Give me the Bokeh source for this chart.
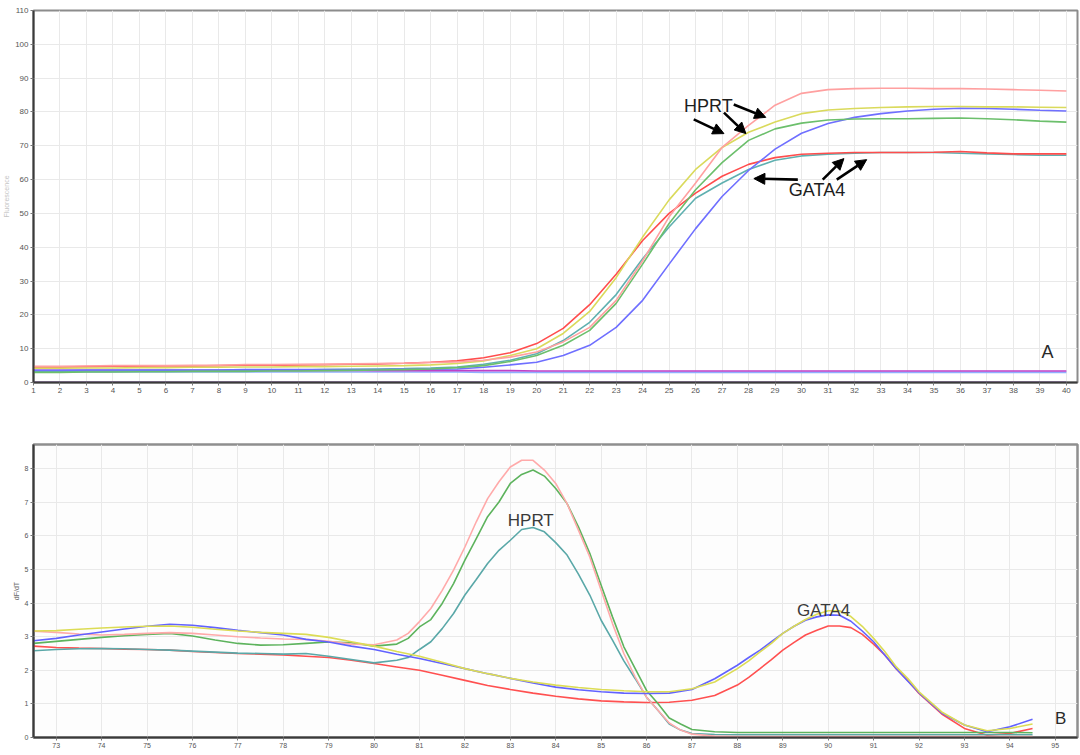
from bokeh.plotting import figure
from bokeh.layouts import column
from bokeh.models import Range1d, FixedTicker, Arrow, NormalHead, ColumnDataSource
from bokeh.core.properties import value
from bokeh.embed import file_html
from bokeh.resources import INLINE

# ---------------- Panel A: amplification curves ----------------
cycles = list(range(1, 41))

amp_pink = [4.8, 4.8, 4.9, 5.0, 5.0, 5.0, 5.1, 5.1, 5.3, 5.3,
            5.4, 5.4, 5.5, 5.6, 5.7, 5.9, 6.1, 6.6, 7.5, 9.0,
            12.0, 16.3, 24.3, 36.0, 49.0, 59.0, 69.5, 76.0, 82.0, 85.5,
            86.6, 86.9, 87.0, 87.0, 86.9, 86.9, 86.8, 86.6, 86.4, 86.2]
amp_yellow = [4.2, 4.2, 4.3, 4.3, 4.4, 4.4, 4.5, 4.5, 4.6, 4.6,
              4.7, 4.7, 4.8, 4.9, 5.0, 5.2, 5.6, 6.4, 8.0, 10.0,
              14.5, 21.0, 31.0, 43.0, 54.0, 63.0, 69.5, 74.0, 77.0, 79.5,
              80.6, 81.0, 81.3, 81.5, 81.6, 81.6, 81.5, 81.5, 81.4, 81.3]
amp_green = [3.0, 3.0, 3.1, 3.1, 3.2, 3.2, 3.3, 3.3, 3.3, 3.4,
             3.4, 3.5, 3.6, 3.7, 3.8, 4.0, 4.4, 5.0, 6.2, 8.0,
             11.0, 15.4, 23.4, 35.0, 47.0, 57.0, 65.0, 71.6, 75.0, 76.7,
             77.6, 77.9, 78.0, 78.0, 78.1, 78.2, 78.0, 77.7, 77.3, 77.0]
amp_blue = [3.6, 3.6, 3.7, 3.7, 3.7, 3.7, 3.7, 3.7, 3.8, 3.8,
            3.8, 3.8, 3.8, 3.8, 3.9, 3.9, 4.0, 4.5, 5.2, 6.0,
            8.0, 11.0, 16.3, 24.3, 35.0, 45.5, 55.0, 62.7, 69.0, 73.7,
            76.6, 78.4, 79.5, 80.3, 80.8, 81.1, 81.0, 80.8, 80.5, 80.3]
amp_red = [4.6, 4.6, 4.7, 4.8, 4.8, 4.9, 4.9, 5.0, 5.1, 5.1,
           5.2, 5.3, 5.4, 5.5, 5.7, 6.0, 6.4, 7.3, 8.8, 11.5,
           16.0, 23.0, 32.0, 42.0, 50.0, 56.0, 61.0, 64.5, 66.5, 67.5,
           67.8, 68.0, 68.0, 68.0, 68.1, 68.3, 67.9, 67.6, 67.6, 67.6]
amp_teal = [3.3, 3.3, 3.4, 3.4, 3.5, 3.5, 3.5, 3.6, 3.6, 3.7,
            3.7, 3.8, 3.9, 4.0, 4.1, 4.3, 4.6, 5.4, 6.6, 8.5,
            12.4, 17.8, 26.0, 36.6, 46.0, 54.5, 59.0, 63.0, 65.7, 67.0,
            67.5, 67.8, 68.0, 68.0, 68.0, 67.8, 67.6, 67.4, 67.2, 67.2]
# no-template controls
amp_ntc_purple = [3.6, 3.6, 3.6, 3.6, 3.6, 3.6, 3.6, 3.6, 3.6, 3.6,
                  3.6, 3.6, 3.6, 3.5, 3.5, 3.5, 3.5, 3.5, 3.5, 3.4,
                  3.4, 3.4, 3.4, 3.4, 3.4, 3.4, 3.4, 3.4, 3.4, 3.4,
                  3.4, 3.4, 3.4, 3.4, 3.4, 3.4, 3.4, 3.4, 3.4, 3.4]
amp_ntc_sky = [3.1, 3.1, 3.1, 3.1, 3.1, 3.1, 3.1, 3.1, 3.1, 3.1,
               3.1, 3.1, 3.1, 3.1, 3.1, 3.1, 3.1, 3.0, 3.0, 3.0,
               3.0, 3.0, 3.0, 3.0, 3.0, 3.0, 3.0, 3.0, 3.0, 3.0,
               3.0, 3.0, 3.0, 3.0, 3.0, 3.0, 3.0, 3.0, 3.0, 3.0]
amp_ntc_base = [0.2, 0.2, 0.2, 0.2, 0.2, 0.2, 0.2, 0.2, 0.2, 0.2,
                0.2, 0.2, 0.2, 0.2, 0.2, 0.2, 0.2, 0.2, 0.2, 0.2,
                0.2, 0.2, 0.2, 0.2, 0.2, 0.2, 0.2, 0.2, 0.2, 0.2,
                0.2, 0.2, 0.2, 0.2, 0.2, 0.2, 0.2, 0.2, 0.2, 0.2]

amp_series = [
    (amp_ntc_base, "#a48cb8"),
    (amp_ntc_sky, "#8fb0ff"),
    (amp_ntc_purple, "#c040c8"),
    (amp_teal, "#5fb0b0"),
    (amp_red, "#ff4d4d"),
    (amp_blue, "#6f6fff"),
    (amp_green, "#6cbf6c"),
    (amp_yellow, "#dada5c"),
    (amp_pink, "#ffa0a0"),
]

amp_xticks = list(range(1, 41))
amp_yticks = list(range(0, 111, 10))

# labels and pointer arrows of panel A
a_label_x = [25.56, 29.52]
a_label_y = [81.9, 56.8]
a_label_text = ["HPRT", "GATA4"]
arrow_x0 = [25.93, 27.07, 27.44, 29.86, 30.80, 31.33]
arrow_y0 = [77.8, 79.8, 82.2, 60.0, 60.0, 60.0]
arrow_x1 = [27.07, 27.90, 28.65, 28.20, 31.60, 32.46]
arrow_y1 = [73.6, 73.6, 78.4, 60.3, 66.2, 65.9]

# ---------------- Panel B: melt curves ----------------
# HPRT wells are sampled more densely across their melting peak
temps_hprt = [72.5, 73.0, 73.5, 74.0, 74.5, 75.0, 75.5, 76.0, 76.5, 77.0,
              77.5, 78.0, 78.5, 79.0, 79.5, 80.0, 80.5,
              80.75, 81.0, 81.25, 81.5, 81.75, 82.0, 82.25, 82.5, 82.75, 83.0,
              83.25, 83.5, 83.75, 84.0, 84.25, 84.5, 84.75, 85.0, 85.25, 85.5,
              85.75, 86.0, 86.25, 86.5, 86.75,
              87.0, 87.5, 88.0, 88.5, 89.0, 89.5, 90.0, 90.5, 91.0, 91.5,
              92.0, 92.5, 93.0, 93.5, 94.0, 94.5]
melt_pink = [3.16, 3.13, 3.08, 3.05, 3.07, 3.10, 3.12, 3.10, 3.05, 3.00,
             2.96, 2.93, 2.92, 2.86, 2.78, 2.76, 2.90,
             3.10, 3.45, 3.84, 4.38, 4.98, 5.67, 6.42, 7.11, 7.61, 8.05,
             8.25, 8.25, 7.96, 7.56, 6.96, 6.17, 5.37, 4.38, 3.39, 2.50,
             1.80, 1.20, 0.81, 0.43, 0.22,
             0.10, 0.04, 0.03, 0.03, 0.03, 0.03, 0.03, 0.03, 0.03, 0.03,
             0.03, 0.03, 0.03, 0.03, 0.03, 0.03]
melt_green = [2.80, 2.86, 2.92, 2.98, 3.03, 3.07, 3.10, 3.02, 2.90, 2.80,
              2.75, 2.76, 2.80, 2.84, 2.82, 2.72, 2.78,
              2.95, 3.29, 3.51, 3.99, 4.58, 5.28, 5.92, 6.57, 7.01, 7.56,
              7.83, 7.96, 7.78, 7.41, 6.96, 6.27, 5.48, 4.53, 3.59, 2.70,
              2.05, 1.40, 1.01, 0.58, 0.40,
              0.24, 0.17, 0.15, 0.15, 0.15, 0.15, 0.15, 0.15, 0.15, 0.15,
              0.15, 0.15, 0.15, 0.15, 0.15, 0.14]
melt_teal = [2.58, 2.62, 2.64, 2.65, 2.64, 2.62, 2.60, 2.57, 2.54, 2.51,
             2.50, 2.48, 2.50, 2.42, 2.32, 2.22, 2.30,
             2.38, 2.62, 2.85, 3.24, 3.69, 4.24, 4.70, 5.18, 5.57, 5.87,
             6.19, 6.25, 6.12, 5.80, 5.43, 4.86, 4.24, 3.49, 2.90, 2.28,
             1.75, 1.20, 0.81, 0.40, 0.22,
             0.12, 0.09, 0.08, 0.08, 0.08, 0.08, 0.08, 0.08, 0.08, 0.08,
             0.08, 0.08, 0.08, 0.08, 0.08, 0.08]

# GATA4 wells are sampled more densely across their melting peak
temps_gata = [72.5, 73.0, 73.5, 74.0, 74.5, 75.0, 75.5, 76.0, 76.5, 77.0,
              77.5, 78.0, 78.5, 79.0, 79.5, 80.0, 80.5, 81.0, 81.5, 82.0,
              82.5, 83.0, 83.5, 84.0, 84.5, 85.0, 85.5, 86.0, 86.5, 87.0,
              87.5, 88.0,
              88.25, 88.5, 88.75, 89.0, 89.25, 89.5, 89.75, 90.0, 90.25, 90.5,
              90.75, 91.0, 91.25, 91.5, 91.75,
              92.0, 92.5, 93.0, 93.5, 94.0, 94.5]
melt_yellow = [3.17, 3.18, 3.22, 3.26, 3.29, 3.31, 3.32, 3.28, 3.22, 3.17,
               3.13, 3.10, 3.07, 2.98, 2.85, 2.72, 2.56, 2.42, 2.24, 2.05,
               1.90, 1.76, 1.65, 1.56, 1.49, 1.43, 1.39, 1.36, 1.36, 1.45,
               1.65, 2.05,
               2.28, 2.55, 2.80, 3.10, 3.31, 3.51, 3.67, 3.77, 3.77, 3.60,
               3.31, 2.95, 2.55, 2.10, 1.76,
               1.36, 0.76, 0.37, 0.20, 0.27, 0.40]
melt_blue = [2.88, 2.95, 3.05, 3.14, 3.23, 3.31, 3.37, 3.34, 3.27, 3.19,
             3.12, 3.05, 2.92, 2.84, 2.72, 2.62, 2.48, 2.35, 2.20, 2.05,
             1.90, 1.76, 1.62, 1.50, 1.42, 1.36, 1.32, 1.31, 1.32, 1.43,
             1.75, 2.15,
             2.38, 2.60, 2.85, 3.10, 3.31, 3.49, 3.59, 3.65, 3.64, 3.46,
             3.17, 2.85, 2.45, 2.05, 1.68,
             1.33, 0.73, 0.37, 0.17, 0.32, 0.54]
melt_red = [2.72, 2.68, 2.66, 2.65, 2.63, 2.62, 2.60, 2.56, 2.53, 2.50,
            2.48, 2.46, 2.42, 2.38, 2.30, 2.20, 2.10, 2.00, 1.85, 1.70,
            1.55, 1.43, 1.32, 1.23, 1.15, 1.09, 1.06, 1.04, 1.05, 1.11,
            1.25, 1.56,
            1.79, 2.05, 2.32, 2.60, 2.83, 3.05, 3.19, 3.32, 3.32, 3.27,
            3.07, 2.78, 2.45, 2.04, 1.70,
            1.31, 0.70, 0.27, 0.07, 0.12, 0.27]

melt_series = [
    (temps_gata, melt_red, "#ff5050"),
    (temps_hprt, melt_teal, "#5aa8a8"),
    (temps_hprt, melt_green, "#5db35d"),
    (temps_hprt, melt_pink, "#ffaaaa"),
    (temps_gata, melt_blue, "#6262ff"),
    (temps_gata, melt_yellow, "#dcdc55"),
]

melt_xticks = list(range(73, 96))
melt_yticks = list(range(0, 9))

b_label_x = [83.45, 89.9]
b_label_y = [6.47, 3.79]
b_label_text = ["HPRT", "GATA4"]

FONT = "Liberation Sans"


def style_axes(p, tick_size, label_color):
    for ax in (p.xaxis[0], p.yaxis[0]):
        ax.axis_line_color = "#3a3a3a"
        ax.axis_line_width = 2
        ax.major_tick_line_color = "#777777"
        ax.major_tick_in = 0
        ax.major_tick_out = 3
        ax.minor_tick_line_color = None
        ax.major_label_text_font = FONT
        ax.major_label_text_font_size = tick_size
        ax.major_label_text_color = "#555555"
        ax.major_label_standoff = 2
        ax.axis_label_text_font = FONT
        ax.axis_label_text_font_style = "normal"
        ax.axis_label_text_font_size = "7px"
        ax.axis_label_text_color = label_color
        ax.axis_label_standoff = 2
    p.grid.grid_line_color = "#e9e9e9"
    p.grid.grid_line_width = 1


# ---------- figure A ----------
pa = figure(width=1080, height=430, output_backend="svg", toolbar_location=None,
            x_range=Range1d(1, 40.42), y_range=Range1d(0, 110),
            min_border_left=32, min_border_right=3, min_border_top=10,
            min_border_bottom=48)
pa.background_fill_color = "white"
pa.border_fill_color = "white"
pa.outline_line_color = "#8c8c8c"
pa.outline_line_width = 2
pa.xaxis.ticker = FixedTicker(ticks=amp_xticks)
pa.yaxis.ticker = FixedTicker(ticks=amp_yticks)
pa.yaxis.axis_label = "Fluorescence"
style_axes(pa, "8px", "#c4c4c4")

for ys, col in amp_series:
    pa.line(cycles, ys, line_color=col, line_width=1.6)

arrow_src = ColumnDataSource(dict(x0=arrow_x0, y0=arrow_y0, x1=arrow_x1, y1=arrow_y1))
pa.add_layout(Arrow(x_start="x0", y_start="y0", x_end="x1", y_end="y1", source=arrow_src,
                    line_color="black", line_width=2.6,
                    end=NormalHead(size=11, fill_color="black", line_color="black")))

pa.text(x=a_label_x, y=a_label_y, text=a_label_text,
        text_font=value(FONT), text_font_size=value("18px"),
        text_color="#1e1e1e", text_baseline="middle", text_align="left")
pa.text(x=[39.06], y=[8.9], text=["A"],
        text_font=value(FONT), text_font_size=value("18px"),
        text_color="#2a2a2a", text_baseline="middle", text_align="left")

# ---------- figure B ----------
pb = figure(width=1080, height=325, output_backend="svg", toolbar_location=None,
            x_range=Range1d(72.5, 95.49), y_range=Range1d(0, 8.72),
            min_border_left=29, min_border_right=0, min_border_top=14,
            min_border_bottom=18)
pb.background_fill_color = "#fdfdfd"
pb.border_fill_color = "white"
pb.outline_line_color = "#8f8f8f"
pb.outline_line_width = 2.5
pb.xaxis.ticker = FixedTicker(ticks=melt_xticks)
pb.yaxis.ticker = FixedTicker(ticks=melt_yticks)
pb.yaxis.axis_label = "dF/dT"
style_axes(pb, "7px", "#666666")

for xs, ys, col in melt_series:
    pb.line(xs, ys, line_color=col, line_width=1.6)

pb.text(x=b_label_x, y=b_label_y, text=b_label_text,
        text_font=value(FONT), text_font_size=value("17px"),
        text_color="#3a3a3a", text_baseline="middle", text_align="center")
pb.text(x=[95.12], y=[0.57], text=["B"],
        text_font=value(FONT), text_font_size=value("17px"),
        text_color="#2a2a2a", text_baseline="middle", text_align="center")

layout = column(pa, pb, spacing=0)
open("out.html", "w").write(file_html(layout, INLINE))
